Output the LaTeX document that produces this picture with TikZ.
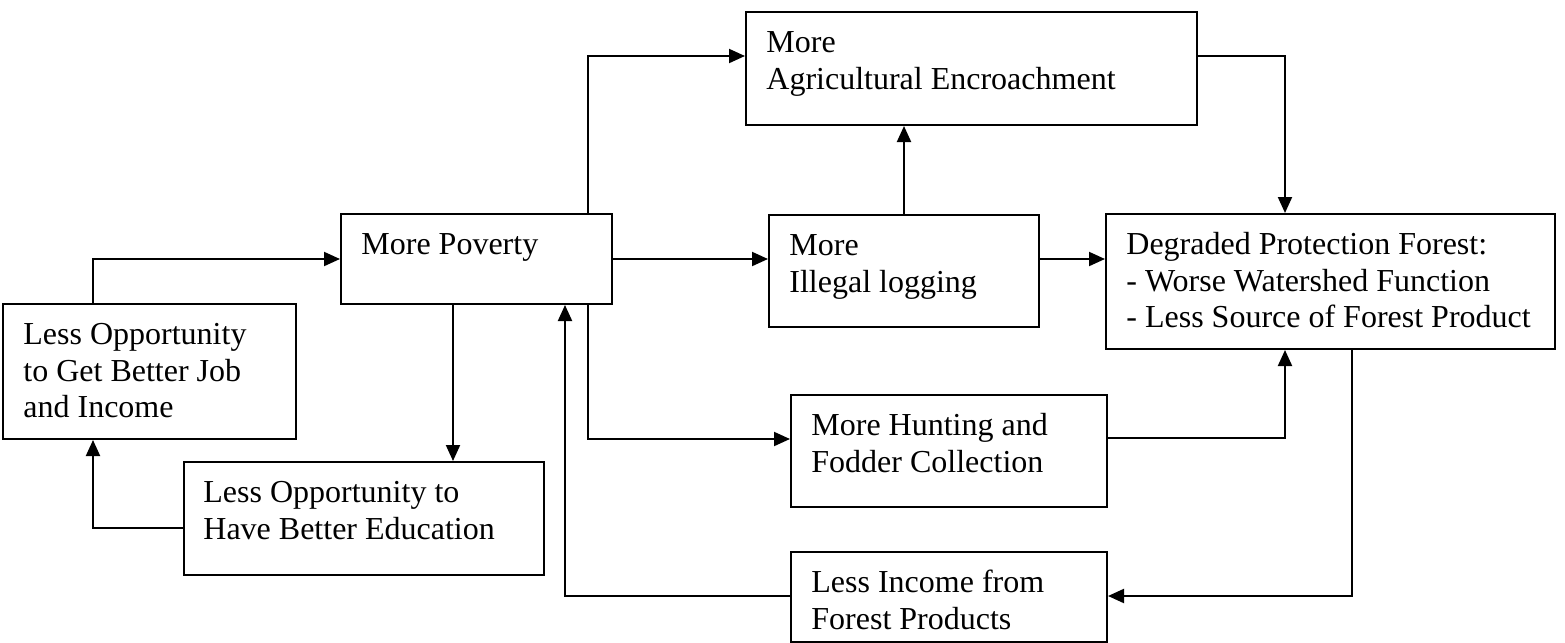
\documentclass[tikz,border=0pt]{standalone}
\usepackage{fontspec}
\setmainfont{Liberation Serif}
\usetikzlibrary{arrows.meta,fit,calc}
\begin{document}
\begin{tikzpicture}[x=0.5pt,y=-0.5pt,
  box/.style={draw,line width=1pt,inner sep=0pt,rectangle},
  txt/.style={anchor=north west,inner sep=0pt,align=left,font=\fontsize{16}{18.4}\selectfont},
  arr/.style={line width=1pt,-{Triangle[length=8pt,width=7pt]}}]
\useasboundingbox (0,0) rectangle (1565,643);
% boxes
\node[box,fit={(746,12) (1197,125)}] (agri) {};
\node[box,fit={(341,214) (612,304)}] (pov) {};
\node[box,fit={(769,215) (1039,327)}] (ill) {};
\node[box,fit={(1106,214) (1555,349)}] (deg) {};
\node[box,fit={(3,304) (296,439)}] (job) {};
\node[box,fit={(184,462) (544,575)}] (edu) {};
\node[box,fit={(791,395) (1107,507)}] (hunt) {};
\node[box,fit={(791,552) (1107,641.5)}] (inc) {};
% texts
\node[txt] (tagri) at ($(agri.north west)+(21,15.2)$) {\strut More\\Agricultural Encroachment};
\node[txt] (tpov) at ($(pov.north west)+(21,15.2)$) {\strut More Poverty};
\node[txt] (till) at ($(ill.north west)+(21,15.2)$) {\strut More\\Illegal logging};
\node[txt] (tdeg) at ($(deg.north west)+(21,15.2)$) {\strut Degraded Protection Forest:\\- Worse Watershed Function\\- Less Source of Forest Product};
\node[txt] (tjob) at ($(job.north west)+(21,15.2)$) {\strut Less Opportunity\\to Get Better Job\\and Income};
\node[txt] (tedu) at ($(edu.north west)+(20,15.2)$) {\strut Less Opportunity to\\Have Better Education};
\node[txt] (thunt) at ($(hunt.north west)+(21,15.2)$) {\strut More Hunting and\\Fodder Collection};
\node[txt] (tinc) at ($(inc.north west)+(21,15.2)$) {\strut Less Income from\\Forest Products};
% connectors
\coordinate (jobtop) at ($(job.north west)+(91,0)$);
\coordinate (jobbot) at ($(job.south west)+(91,0)$);
\coordinate (povtop) at ($(pov.north west)+(248,0)$);
\coordinate (povbotA) at ($(pov.south west)+(113,0)$);
\coordinate (povbotB) at ($(pov.south west)+(248,0)$);
\coordinate (povbotC) at ($(pov.south west)+(225,0)$);
\coordinate (agriin) at ($(agri.north west)+(0,45)$);
\coordinate (agriout) at ($(agri.north east)+(0,45)$);
\coordinate (degtop) at ($(deg.north west)+(180,0)$);
\coordinate (degbotA) at ($(deg.south west)+(180,0)$);
\coordinate (degbotB) at ($(deg.south west)+(247,0)$);
\coordinate (eduout) at ($(edu.north west)+(0,67)$);
\coordinate (huntin) at ($(hunt.north west)+(0,45)$);
\coordinate (huntout) at ($(hunt.north east)+(0,44)$);
\coordinate (incin) at ($(inc.north east)+(0,45)$);
\coordinate (incout) at ($(inc.north west)+(0,45)$);
\draw[arr] (jobtop) |- (pov.west);
\draw[arr] (povtop) |- (agriin);
\draw[arr] (pov.east) -- (pov.east -| ill.west);
\draw[arr] (ill.north) -- (ill.north |- agri.south);
\draw[arr] (pov.east -| ill.east) -- (pov.east -| deg.west);
\draw[arr] (agriout) -| (degtop);
\draw[arr] (povbotA) -- (povbotA |- edu.north);
\draw[arr] (eduout) -| (jobbot);
\draw[arr] (povbotB) |- (huntin);
\draw[arr] (huntout) -| (degbotA);
\draw[arr] (degbotB) |- (incin);
\draw[arr] (incout) -| (povbotC);
\end{tikzpicture}
\end{document}
